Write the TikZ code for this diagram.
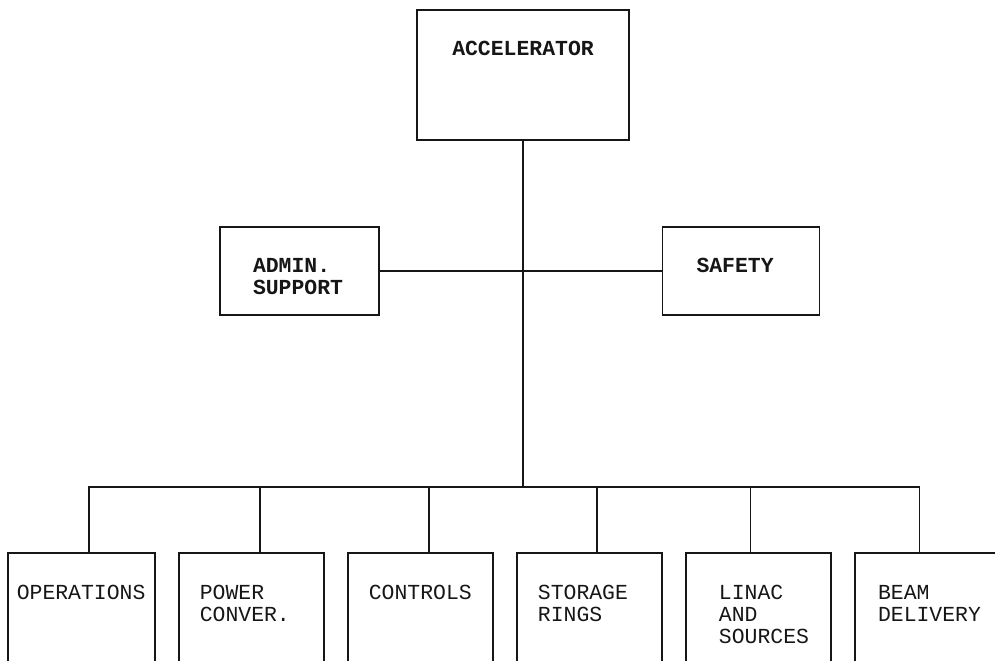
\documentclass[tikz,border=0pt]{standalone}
\usepackage{fontspec}
\newfontfamily\typewriter{Liberation Mono}
\usetikzlibrary{positioning}
\definecolor{Ink}{HTML}{161616}
\tikzset{
  headbox/.style={draw=Ink, line width=0.9pt, inner xsep=0pt, inner ysep=0pt, text=Ink, font=\typewriter\bfseries\fontsize{12.2}{12.5}\selectfont},
  sidebox/.style 2 args={headbox, align=left, inner xsep=#1, text width=#2, text height=0.92cm, text depth=0.84cm},
  unitbox/.style 2 args={draw=Ink, line width=0.9pt, align=left, inner ysep=0pt, inner xsep=#1, text width=#2, text height=0.94cm, text depth=2cm, text=Ink, font=\typewriter\fontsize{12.2}{12.5}\selectfont},
  link/.style={draw=Ink, line width=0.9pt}
}
\begin{document}
\begin{tikzpicture}[x=0.02cm, y=-0.02cm, node distance=0.45cm]
\useasboundingbox (0,0) rectangle (995,661);
\clip (0,0) rectangle (995,661);

\node[headbox, anchor=north, minimum width=4.24cm, text height=0.92cm, text depth=1.68cm] (acc) at (523,9) {ACCELERATOR};

\node[sidebox={0.66cm}{1.86cm}, anchor=north] (admin) at (299.5,226) {ADMIN.\\SUPPORT};
\node[sidebox={0.68cm}{1.78cm}, right=5.64cm of admin] (safety) {SAFETY};

\coordinate (bus) at (acc.south |- 0,487);

\node[unitbox={0.18cm}{2.58cm}, anchor=north west] (ops) at (7,552) {OPERATIONS};
\node[unitbox={0.42cm}{2.06cm}, right=of ops] (pwr) {POWER\\CONVER.};
\node[unitbox={0.42cm}{2.06cm}, right=of pwr] (ctl) {CONTROLS};
\node[unitbox={0.42cm}{2.06cm}, right=of ctl] (sto) {STORAGE\\RINGS};
\node[unitbox={0.66cm}{1.58cm}, right=of sto] (lin) {LINAC\\AND\\SOURCES};
\node[unitbox={0.46cm}{1.98cm}, right=of lin] (bd) {BEAM\\DELIVERY};

\draw[link] (acc) -- (bus);
\draw[link] (admin) -- (safety);
\foreach \n/\dx in {ops/0.15, pwr/0.17, ctl/0.17, sto/0.15, lin/-0.16, bd/-0.16}
  \draw[link] (bus) -| ([xshift=\dx cm]\n.north);
\end{tikzpicture}
\end{document}
